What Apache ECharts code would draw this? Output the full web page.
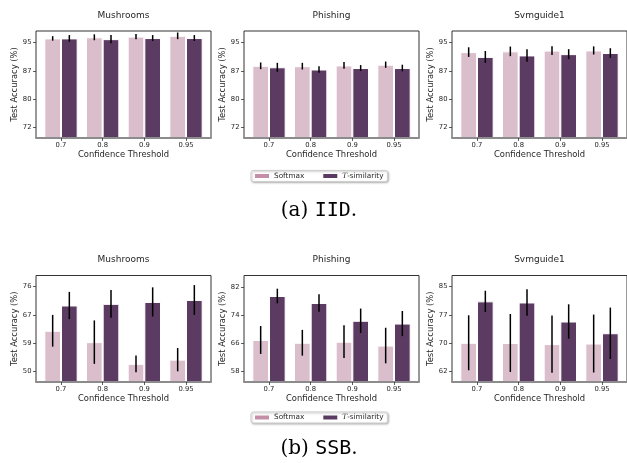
<!DOCTYPE html>
<html>
<head>
<meta charset="utf-8">
<script src="https://cdn.jsdelivr.net/npm/echarts@6/dist/echarts.min.js"></script>
<style>
  html, body { margin: 0; padding: 0; background: #ffffff; }
  #chart { width: 627px; height: 463px; }
</style>
</head>
<body>
<div id="chart"></div>
<script>
// Categories
const thresholds = ['0.7', '0.8', '0.9', '0.95'];
const datasetNames = ['Mushrooms', 'Phishing', 'Svmguide1'];
const methodNames = ['Softmax', 'T-similarity'];

// (a) IID: mean test accuracy (%) and error half-widths
const iidMushroomsSoftmax = [96.1, 96.4, 96.6, 96.8];
const iidMushroomsSoftmaxErr = [0.6, 0.8, 0.7, 0.9];
const iidMushroomsTsim = [96.1, 95.9, 96.2, 96.2];
const iidMushroomsTsimErr = [0.9, 1.1, 0.8, 0.8];

const iidPhishingSoftmax = [88.7, 88.6, 88.8, 89.0];
const iidPhishingSoftmaxErr = [0.9, 0.9, 0.9, 0.85];
const iidPhishingTsim = [88.3, 87.7, 88.1, 88.1];
const iidPhishingTsimErr = [1.2, 0.9, 0.8, 0.9];

const iidSvmguideSoftmax = [92.4, 92.6, 92.8, 92.85];
const iidSvmguideSoftmaxErr = [1.3, 1.3, 1.2, 1.1];
const iidSvmguideTsim = [91.1, 91.5, 91.85, 92.15];
const iidSvmguideTsimErr = [1.6, 1.7, 1.35, 1.3];

// (b) SSB: mean test accuracy (%) and error half-widths
const ssbMushroomsSoftmax = [62.4, 58.9, 52.2, 53.5];
const ssbMushroomsSoftmaxErr = [4.9, 6.7, 2.6, 3.6];
const ssbMushroomsTsim = [70.2, 70.7, 71.3, 71.9];
const ssbMushroomsTsimErr = [4.2, 4.3, 4.5, 4.6];

const ssbPhishingSoftmax = [66.9, 66.1, 66.4, 65.3];
const ssbPhishingSoftmaxErr = [4.0, 3.7, 4.7, 5.1];
const ssbPhishingTsim = [79.5, 77.5, 72.4, 71.6];
const ssbPhishingTsimErr = [2.1, 2.5, 3.5, 3.6];

const ssbSvmguideSoftmax = [69.7, 69.65, 69.35, 69.5];
const ssbSvmguideSoftmaxErr = [7.5, 7.9, 7.8, 7.9];
const ssbSvmguideTsim = [81.0, 80.7, 75.5, 72.3];
const ssbSvmguideTsimErr = [2.9, 3.6, 4.7, 7.0];

// Y tick positions (labels are shown rounded)
const iidTicks = [72, 79.667, 87.333, 95];
const ssbMushroomsTicks = [50, 58.667, 67.333, 76];
const ssbPhishingTicks = [58, 66, 74, 82];
const ssbSvmguideTicks = [62, 69.667, 77.333, 85];

// Y axis limits
const iidRange = [69.2, 98.1];
const ssbMushroomsRange = [46.6, 79.45];
const ssbPhishingRange = [54.85, 85.38];
const ssbSvmguideRange = [59.0, 88.06];

// Styling
const FONT = 'DejaVu Sans';
const TEXT = '#262626';
const barColors = ['#dbbecc', '#5c3b62'];
const legendColors = ['#c48ea9', '#5b3a62'];

const panelLefts = [36, 244, 452];
const panelWidth = 175;
const rowTops = [31, 275.5];
const rowHeights = [107, 106.5];

const panels = [
  { row: 0, col: 0, s: iidMushroomsSoftmax, se: iidMushroomsSoftmaxErr, t: iidMushroomsTsim, te: iidMushroomsTsimErr, ticks: iidTicks, range: iidRange },
  { row: 0, col: 1, s: iidPhishingSoftmax, se: iidPhishingSoftmaxErr, t: iidPhishingTsim, te: iidPhishingTsimErr, ticks: iidTicks, range: iidRange },
  { row: 0, col: 2, s: iidSvmguideSoftmax, se: iidSvmguideSoftmaxErr, t: iidSvmguideTsim, te: iidSvmguideTsimErr, ticks: iidTicks, range: iidRange },
  { row: 1, col: 0, s: ssbMushroomsSoftmax, se: ssbMushroomsSoftmaxErr, t: ssbMushroomsTsim, te: ssbMushroomsTsimErr, ticks: ssbMushroomsTicks, range: ssbMushroomsRange },
  { row: 1, col: 1, s: ssbPhishingSoftmax, se: ssbPhishingSoftmaxErr, t: ssbPhishingTsim, te: ssbPhishingTsimErr, ticks: ssbPhishingTicks, range: ssbPhishingRange },
  { row: 1, col: 2, s: ssbSvmguideSoftmax, se: ssbSvmguideSoftmaxErr, t: ssbSvmguideTsim, te: ssbSvmguideTsimErr, ticks: ssbSvmguideTicks, range: ssbSvmguideRange }
];

const catPositions = thresholds.map((_, i) => i);

const grids = [], xAxes = [], yAxes = [], series = [], titles = [];

function errorSeries(idx, means, errs, offset) {
  return {
    type: 'custom',
    xAxisIndex: idx,
    yAxisIndex: idx,
    z: 4,
    silent: true,
    data: means.map((m, k) => [k, m - errs[k], m + errs[k]]),
    encode: { x: 0, y: [1, 2] },
    renderItem: (params, api) => {
      const x = api.value(0) + offset;
      const p1 = api.coord([x, api.value(1)]);
      const p2 = api.coord([x, api.value(2)]);
      return {
        type: 'line',
        shape: { x1: p1[0], y1: p1[1], x2: p2[0], y2: p2[1] },
        style: { stroke: '#000000', lineWidth: 1.5 }
      };
    }
  };
}

panels.forEach((p, idx) => {
  grids.push({
    left: panelLefts[p.col],
    top: rowTops[p.row],
    width: panelWidth,
    height: rowHeights[p.row],
    show: true,
    borderColor: '#333333',
    borderWidth: 1,
    backgroundColor: 'transparent',
    containLabel: false
  });
  xAxes.push({
    type: 'value',
    gridIndex: idx,
    min: -0.6,
    max: 3.6,
    z: 5,
    name: 'Confidence Threshold',
    nameLocation: 'middle',
    nameGap: 12.5,
    nameTextStyle: { fontFamily: FONT, fontSize: 8.4, color: TEXT },
    axisLine: { show: true, onZero: false, lineStyle: { color: '#8c8c8c', width: 2 } },
    axisTick: { show: true, customValues: catPositions, length: 3, lineStyle: { color: '#333333', width: 0.8 } },
    axisLabel: {
      customValues: catPositions,
      formatter: v => thresholds[Math.round(v)],
      fontFamily: FONT, fontSize: 6.8, color: TEXT, margin: 4
    },
    splitLine: { show: false }
  });
  yAxes.push({
    type: 'value',
    gridIndex: idx,
    position: 'left',
    min: p.range[0],
    max: p.range[1],
    name: 'Test Accuracy (%)',
    nameLocation: 'middle',
    nameGap: 16,
    nameTextStyle: { fontFamily: FONT, fontSize: 8.4, color: TEXT },
    axisLine: { show: false, onZero: false },
    axisTick: { show: true, customValues: p.ticks, length: 3, lineStyle: { color: '#333333', width: 0.8 } },
    axisLabel: {
      customValues: p.ticks,
      formatter: v => String(Math.round(v)),
      fontFamily: FONT, fontSize: 6.8, color: TEXT, margin: 4.5
    },
    splitLine: { show: false }
  });
  [p.s, p.t].forEach((vals, m) => {
    series.push({
      type: 'bar',
      name: methodNames[m],
      xAxisIndex: idx,
      yAxisIndex: idx,
      barWidth: '40%',
      barGap: '0%',
      itemStyle: { color: barColors[m], borderColor: '#ffffff', borderWidth: 1 },
      emphasis: { disabled: true },
      data: vals.map((v, k) => [k, v])
    });
  });
  series.push(errorSeries(idx, p.s, p.se, -0.2));
  series.push(errorSeries(idx, p.t, p.te, 0.2));

  titles.push({
    text: datasetNames[p.col],
    left: panelLefts[p.col] + panelWidth / 2,
    top: p.row === 0 ? 11.5 : 255,
    textAlign: 'center',
    padding: 0,
    textStyle: { fontFamily: FONT, fontSize: 9, fontWeight: 'normal', color: TEXT }
  });
});

// Sub-figure captions
const captionRich = {
  p: { fontFamily: 'DejaVu Serif', fontSize: 20, fontWeight: 'normal', color: '#000000' },
  m: { fontFamily: 'DejaVu Sans Mono', fontSize: 20, fontWeight: 'normal', color: '#000000' }
};
titles.push({
  text: '{p|(a) }{m|IID}{p|.}', left: 319, top: 201, textAlign: 'center', padding: 0,
  textStyle: { fontWeight: 'normal', rich: captionRich }
});
titles.push({
  text: '{p|(b) }{m|SSB}{p|.}', left: 319, top: 438.5, textAlign: 'center', padding: 0,
  textStyle: { fontWeight: 'normal', rich: captionRich }
});

function makeLegend(top) {
  return {
    left: 251,
    top: top,
    orient: 'horizontal',
    padding: [2, 4, 2, 4],
    itemGap: 19,
    itemWidth: 14,
    itemHeight: 4,
    backgroundColor: '#ffffff',
    borderColor: '#cfcfcf',
    borderWidth: 1,
    borderRadius: 2,
    shadowBlur: 2,
    shadowColor: 'rgba(0,0,0,0.25)',
    shadowOffsetX: 1,
    shadowOffsetY: 1,
    selectedMode: false,
    data: methodNames.map((n, i) => ({ name: n, icon: 'rect', itemStyle: { color: legendColors[i], borderWidth: 0 } })),
    formatter: name => name === 'T-similarity' ? '{i|T}-similarity' : name,
    textStyle: {
      fontFamily: FONT, fontSize: 7.3, color: TEXT,
      rich: { i: { fontFamily: 'DejaVu Serif', fontStyle: 'italic', fontSize: 7.3, color: TEXT } }
    }
  };
}

const chart = echarts.init(document.getElementById('chart'), null, { renderer: 'canvas' });
chart.setOption({
  animation: false,
  backgroundColor: '#ffffff',
  title: titles,
  legend: [makeLegend(170.5), makeLegend(412)],
  grid: grids,
  xAxis: xAxes,
  yAxis: yAxes,
  series: series
});
</script>
</body>
</html>
